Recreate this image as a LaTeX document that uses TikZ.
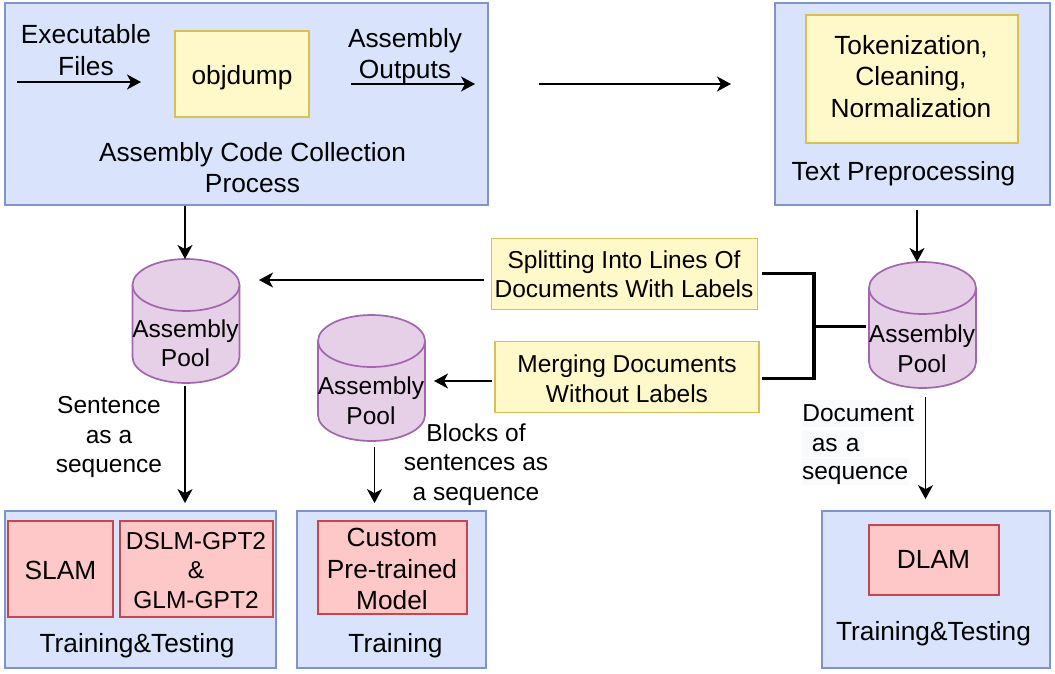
\documentclass[tikz,border=0pt]{standalone}
\usepackage{fontspec}
\setmainfont{Liberation Sans}
\usetikzlibrary{arrows.meta,calc}
\definecolor{bluef}{HTML}{D9E4FC}\definecolor{blued}{HTML}{7F93CC}
\definecolor{yelf}{HTML}{FFF8C8}\definecolor{yeld}{HTML}{D9BF56}
\definecolor{redf}{HTML}{FFC8C8}\definecolor{redd}{HTML}{C4464E}
\definecolor{purf}{HTML}{E5D0E7}\definecolor{purd}{HTML}{A366AE}
\definecolor{hl}{HTML}{F9FAFB}
\tikzset{
 box/.style={draw,line width=1.8pt,inner sep=0pt},
 bluebox/.style={box,fill=bluef,draw=blued},
 yelbox/.style={box,fill=yelf,draw=yeld},
 redbox/.style={box,fill=redf,draw=redd},
 lbl/.style={inner sep=0pt,align=center,font=\fontsize{26.3}{31.2}\selectfont},
 small/.style={lbl,font=\fontsize{24.5}{29.6}\selectfont},
 hlbox/.style={small,fill=hl,anchor=base west,text height=21.7pt,text depth=5.3pt},
 arr/.style={-{Stealth[length=14pt,width=15pt,inset=4pt]},line width=1.7pt},
 brk/.style={line width=3.5pt,line cap=butt},
 cyl/.style={fill=purf,draw=purd,line width=1.7pt},
 wh/.style n args={2}{minimum width=#1pt,minimum height=#2pt}
}
\newcommand{\poolcyl}[4]{% name, center x, top y, total height
 \path[cyl] (#2-53.5,#3+26) -- (#2-53.5,#3+#4-26) arc[start angle=180,end angle=0,x radius=53.5,y radius=26] -- (#2+53.5,#3+26) arc[start angle=0,end angle=-180,x radius=53.5,y radius=26] -- cycle;
 \path[cyl] (#2-53.5,#3+26) arc[start angle=180,end angle=0,x radius=53.5,y radius=26];
 \node[wh={107}{#4},inner sep=0pt,anchor=north] (#1) at (#2,#3) {};
}
\begin{document}
\begin{tikzpicture}[x=1pt,y=-1pt]
\useasboundingbox (0,0) rectangle (1055,673);
% main boxes
\node[bluebox,wh={483.5}{202}] (collect) at (246.5,104) {};
\node[bluebox,wh={275}{202}] (prep) at (912.5,104) {};
\node[yelbox,wh={134}{86}] (objdump) at (242,74) {};
\node[yelbox,wh={212}{128}] (token) at (912,79) {};
\node[lbl] (objlbl) at (242,77.5) {objdump};
\node[lbl] (toklbl) at (911,76.5) {Tokenization,\\Cleaning,\\Normalization};
\node[lbl] (exe) at (86,50) {Executable\\Files};
\node[lbl] (asmout) at (405,56.5) {Assembly\\Outputs};
\node[lbl] (collectlbl) at (252.5,167.5) {Assembly Code Collection\\Process};
\node[lbl] (preplbl) at (903.5,174) {Text Preprocessing};
% cylinders
\poolcyl{poolA}{186}{259}{124}
\poolcyl{poolB}{371.5}{315}{126}
\poolcyl{poolC}{922.5}{262}{126}
\node[small] (lblA) at (185.5,343.2) {Assembly\\Pool};
\node[small] (lblB) at (371,400.8) {Assembly\\Pool};
\node[small] (lblC) at (922,348.7) {Assembly\\Pool};
% yellow operations
\node[yelbox,wh={266}{71}] (split) at (624.5,274) {};
\node[yelbox,wh={264}{71}] (merge) at (627,377) {};
\node[small] (splitlbl) at (624,274.3) {Splitting Into Lines Of\\Documents With Labels};
\node[small] (mergelbl) at (627,378.5) {Merging Documents\\Without Labels};
% bottom boxes
\node[bluebox,wh={271}{157}] (trainA) at (140.5,589.5) {};
\node[bluebox,wh={189}{157}] (trainB) at (391.5,589.5) {};
\node[bluebox,wh={228}{157}] (trainC) at (936,589.5) {};
\node[redbox,wh={105}{96}] (slam) at (60.5,569) {};
\node[redbox,wh={153}{96}] (dslm) at (196.5,569) {};
\node[redbox,wh={149}{93}] (custom) at (392.5,567.5) {};
\node[redbox,wh={130}{70}] (dlam) at (934,560) {};
\node[lbl] (slamlbl) at (60.5,570.5) {SLAM};
\node[small] (dslmlbl) at (196,570.5) {DSLM-GPT2\\\&\\GLM-GPT2};
\node[lbl] (customlbl) at (392,569) {Custom\\Pre-trained\\Model};
\node[lbl] (dlamlbl) at (933.5,559.5) {DLAM};
\node[lbl] (ttA) at (137,646) {Training\&Testing};
\node[lbl] (ttB) at (395.5,646) {Training};
\node[lbl] (ttC) at (933.5,634) {Training\&Testing};
% side labels
\node[small] (sentlbl) at (109,437) {Sentence\\as a\\sequence};
\node[small] (blockslbl) at (476,464.5) {Blocks of\\sentences as\\a sequence};
\node[hlbox,text width=113pt] (doc1) at (801.5,421.7) {\raggedright Document};
\node[hlbox,text width=62pt] (doc2) at (801.5,451.7) {\raggedright\hspace{6pt}as a};
\node[hlbox,text width=107pt] (doc3) at (801.5,479.7) {\raggedright sequence};
% free ends
\coordinate (e1) at (17,82); \coordinate (e2) at (141,82);
\coordinate (o1) at (351,84); \coordinate (o2) at (475,84);
\coordinate (m1) at (539,84); \coordinate (m2) at (731,84);
\coordinate (s2) at (259,280); \coordinate (s1) at (484,280);
\coordinate (mg2) at (434,381); \coordinate (mg1) at (492,381);
\coordinate (bt) at (762,273.5); \coordinate (bm) at (814,273.5);
\coordinate (bn) at (814,378.5); \coordinate (bb) at (762,378.5);
\coordinate (c1) at (814,326); \coordinate (c2) at (866,326);
\draw[arr] (collect.south -| 185,0) -- (poolA.north -| 185,0);
\draw[arr] (e1) -- (e2);
\draw[arr] (o1) -- (o2);
\draw[arr] (m1) -- (m2);
\draw[arr] ($(prep.south -| poolC.north)+(-5.5,4)$) -- ($(poolC.north)+(-5.5,0)$);
\draw[arr] (s1) -- (s2);
\draw[arr] (mg1) -- (mg2);
\draw[arr] ($(poolA.south)+(-1,3)$) -- ($(trainA.north -| 185,0)+(0,-7)$);
\draw[arr] ($(poolB.south)+(3,6)$) -- ($(trainB.north -| 374.5,0)+(0,-7)$);
\draw[arr] ($(poolC.south)+(3,9)$) -- ($(trainC.north -| 925.5,0)+(0,-11)$);
\draw[brk] (bt) -- (bm) -- (bn) -- (bb);
\draw[line width=3pt] (c1) -- (c2);
\end{tikzpicture}
\end{document}
